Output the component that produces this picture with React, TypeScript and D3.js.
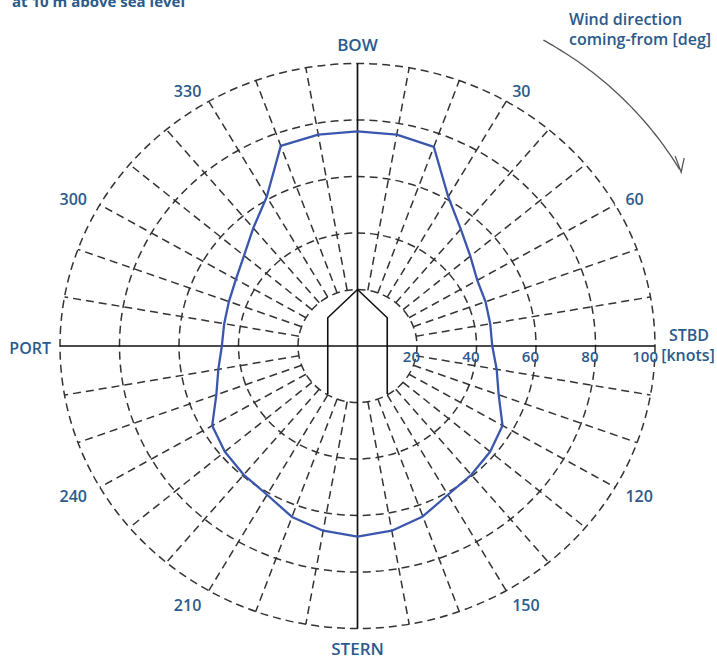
import React from "react";
import * as d3 from "d3";

const windAngles = [0, 10, 20, 30, 40, 50, 60, 70, 80, 90, 100, 110, 120, 130, 140, 150, 160, 170, 180, 190, 200, 210, 220, 230, 240, 250, 260, 270, 280, 290, 300, 310, 320, 330, 340, 350];
const windSpeeds = [76, 76, 75, 61, 54, 49.5, 46.5, 45.8, 45.3, 45.3, 47.5, 50.5, 56.3, 58.2, 59.5, 60.8, 64.2, 66.4, 67.5, 66.4, 64.4, 60.8, 59.5, 58.2, 56.4, 50.5, 47.5, 45.6, 45.5, 46, 47.2, 49.8, 54.5, 61, 75.4, 76];
const ringValues = [20, 40, 60, 80, 100];
const speedTickLabels = ["20", "40", "60", "80", "100"];
const directionLabels = [30, 60, 120, 150, 210, 240, 300, 330];
const shipOutlineX = [-10, -10, 0, 10, 10];
const shipOutlineY = [-17, 10, 20, 10, -17];

const W = 717;
const H = 659;
const cx = 357.5;
const cy = 346;
const rx = 297.5;
const ry = 282.5;
const BLUE = "#2b5a8c";
const FONT = "'Open Sans', 'Noto Sans', sans-serif";

export default function App() {
  const x = d3.scaleLinear().domain([-100, 100]).range([cx - rx, cx + rx]);
  const y = d3.scaleLinear().domain([-100, 100]).range([cy + ry, cy - ry]);
  const rad = (deg: number) => (deg * Math.PI) / 180;
  const px = (deg: number, r: number) => x(r * Math.sin(rad(deg)));
  const py = (deg: number, r: number) => y(r * Math.cos(rad(deg)));

  const polyData = windAngles.map((a, i) => [a, windSpeeds[i]] as [number, number]);
  const polyPath = d3
    .line<[number, number]>()
    .x((d) => px(d[0], d[1]))
    .y((d) => py(d[0], d[1]))
    .curve(d3.curveLinearClosed)(polyData);

  const shipPts = shipOutlineX.map((v, i) => [v, shipOutlineY[i]] as [number, number]);
  const shipPath = d3
    .line<[number, number]>()
    .x((d) => x(d[0]))
    .y((d) => y(d[1]))(shipPts);

  const radialAngles = d3.range(10, 360, 10).filter((a) => a % 90 !== 0);

  const arcPts = d3.range(30, 60.01, 1).map((a) => [a, 125] as [number, number]);
  const arcPath = d3
    .line<[number, number]>()
    .x((d) => px(d[0], d[1]))
    .y((d) => py(d[0], d[1]))
    .curve(d3.curveCatmullRom)(arcPts);
  const tipX = px(60.5, 125);
  const tipY = py(60.5, 125);

  return (
    <svg
      width={W}
      height={H}
      style={{ position: "absolute", left: 0, top: 0, background: "#fff" }}
      fontFamily={FONT}
    >
      <text x={12} y={7} fill={BLUE} fontSize={15} fontWeight="bold">
        at 10 m above sea level
      </text>
      <text x={569} y={25} fill={BLUE} fontSize={16} fontWeight={600}>
        Wind direction
      </text>
      <text x={569} y={45} fill={BLUE} fontSize={16} fontWeight={600}>
        coming-from [deg]
      </text>

      {ringValues.map((r) => (
        <ellipse
          key={"ring" + r}
          cx={x(0)}
          cy={y(0)}
          rx={x(r) - x(0)}
          ry={y(0) - y(r)}
          fill="none"
          stroke="#333"
          strokeWidth={1.5}
          strokeDasharray="8 5"
        />
      ))}
      {radialAngles.map((a) => (
        <line
          key={"rad" + a}
          x1={px(a, 20)}
          y1={py(a, 20)}
          x2={px(a, 100)}
          y2={py(a, 100)}
          stroke="#333"
          strokeWidth={1.5}
          strokeDasharray="8 5"
        />
      ))}
      <line x1={x(-100)} y1={y(0)} x2={x(100)} y2={y(0)} stroke="#111" strokeWidth={1.7} />
      <line x1={x(0)} y1={y(100)} x2={x(0)} y2={y(-100)} stroke="#111" strokeWidth={1.7} />

      <path d={shipPath || ""} fill="none" stroke="#111" strokeWidth={1.6} />

      <path d={polyPath || ""} fill="none" stroke="#3a57ad" strokeWidth={2.3} strokeLinejoin="round" />

      {ringValues.map((r, i) => (
        <text key={"tl" + r} x={x(r) + 3} y={362} textAnchor="end" fill={BLUE} fontSize={15} fontWeight={600}>
          {speedTickLabels[i]}
        </text>
      ))}

      {directionLabels.map((a) => (
        <text
          key={"dl" + a}
          x={px(a, a < 180 ? 104 : 105)}
          y={py(a, 105) + 2}
          dy="0.36em"
          textAnchor={a < 180 ? "start" : "end"}
          fill={BLUE}
          fontSize={16}
          fontWeight={600}
        >
          {a}
        </text>
      ))}

      <text x={x(0)} y={51} textAnchor="middle" fill={BLUE} fontSize={17} fontWeight={600}>
        BOW
      </text>
      <text x={x(0)} y={655} textAnchor="middle" fill={BLUE} fontSize={17} fontWeight={600}>
        STERN
      </text>
      <text x={51} y={354} textAnchor="end" fill={BLUE} fontSize={16} fontWeight={600}>
        PORT
      </text>
      <text x={689} y={341} textAnchor="middle" fill={BLUE} fontSize={16} fontWeight={600}>
        STBD
      </text>
      <text x={688} y={361} textAnchor="middle" fill={BLUE} fontSize={16} fontWeight={600}>
        [knots]
      </text>

      <path d={arcPath || ""} fill="none" stroke="#555" strokeWidth={1.3} />
      <path
        d={`M${tipX - 6},${tipY - 16} L${tipX},${tipY} L${tipX + 3},${tipY - 14}`}
        fill="none"
        stroke="#555"
        strokeWidth={1.3}
      />
    </svg>
  );
}
